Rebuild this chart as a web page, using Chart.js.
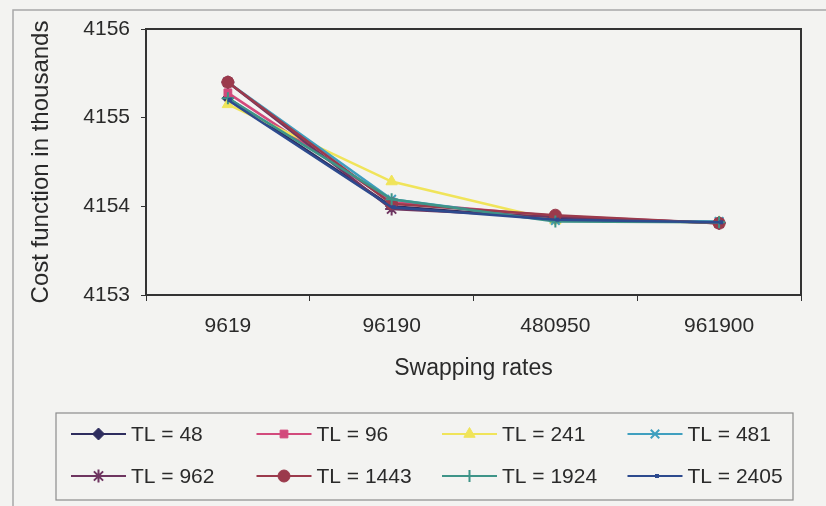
<!DOCTYPE html>
<html>
<head>
<meta charset="utf-8">
<script src="https://cdn.jsdelivr.net/npm/chart.js@4.4.1/dist/chart.umd.min.js"></script>
<style>
  html, body { margin: 0; padding: 0; background: #f3f3f1; }
  #wrap { width: 826px; height: 506px; }
</style>
</head>
<body>
<div id="wrap"><canvas id="c" width="826" height="506"></canvas></div>
<script>
// Swapping rates on the category axis
const swappingRates = ['9619', '96190', '480950', '961900'];

// Cost function (thousands) for each TL setting
const tl48   = [4155.22, 4154.00, 4153.86, 4153.82];
const tl96   = [4155.28, 4154.05, 4153.89, 4153.81];
const tl241  = [4155.15, 4154.28, 4153.84, 4153.82];
const tl481  = [4155.40, 4154.08, 4153.84, 4153.83];
const tl962  = [4155.40, 4153.97, 4153.88, 4153.81];
const tl1443 = [4155.40, 4154.03, 4153.90, 4153.81];
const tl1924 = [4155.22, 4154.08, 4153.83, 4153.82];
const tl2405 = [4155.20, 4153.99, 4153.85, 4153.82];

const seriesLabels = ['TL = 48', 'TL = 96', 'TL = 241', 'TL = 481',
                      'TL = 962', 'TL = 1443', 'TL = 1924', 'TL = 2405'];
const seriesValues = [tl48, tl96, tl241, tl481, tl962, tl1443, tl1924, tl2405];

// Y axis ticks
const yTicks = [4153, 4154, 4155, 4156];

const seriesStyle = [
  { color: '#2e2d5e', point: 'rectRot',  r: 6,   fill: true,  bw: 1   },
  { color: '#d24a7c', point: 'rect',     r: 5.5, fill: true,  bw: 1   },
  { color: '#f0e45a', point: 'triangle', r: 6.5, fill: true,  bw: 1   },
  { color: '#3f9fbf', point: 'crossRot', r: 6,   fill: false, bw: 2   },
  { color: '#6e3560', point: 'star',     r: 6.5, fill: false, bw: 2   },
  { color: '#9b3a4c', point: 'circle',   r: 6,   fill: true,  bw: 1   },
  { color: '#3e9488', point: 'cross',    r: 6,   fill: false, bw: 2   },
  { color: '#2d4a8e', point: 'dash',     r: 4,   fill: false, bw: 4   }
];

const FONT = "'Liberation Sans', Arial, sans-serif";
const TEXT = '#2a2a2a';

const datasets = seriesValues.map((vals, i) => {
  const s = seriesStyle[i];
  return {
    label: seriesLabels[i],
    data: vals,
    borderColor: s.color,
    backgroundColor: s.color,
    borderWidth: 2.5,
    pointStyle: s.point,
    pointRadius: s.r,
    pointHoverRadius: s.r,
    pointBackgroundColor: s.fill ? s.color : 'rgba(0,0,0,0)',
    pointBorderColor: s.color,
    pointBorderWidth: s.bw,
    tension: 0,
    order: -i
  };
});

// Page background and the thin frame around the whole chart
const frame = {
  id: 'frame',
  beforeDraw(chart) {
    const ctx = chart.ctx;
    ctx.save();
    ctx.fillStyle = '#f3f3f1';
    ctx.fillRect(0, 0, chart.width, chart.height);
    ctx.strokeStyle = '#a8a8a8';
    ctx.lineWidth = 1.5;
    ctx.beginPath();
    ctx.moveTo(13, chart.height + 2);
    ctx.lineTo(13, 10);
    ctx.lineTo(chart.width + 2, 10);
    ctx.stroke();
    ctx.restore();
  },
  beforeDatasetsDraw(chart) {
    const a = chart.chartArea;
    const ctx = chart.ctx;
    ctx.save();
    ctx.strokeStyle = '#333333';
    ctx.lineWidth = 2;
    ctx.strokeRect(a.left, a.top, a.right - a.left, a.bottom - a.top);
    ctx.restore();
  }
};

// Boxed legend: 4 columns x 2 rows, line sample with marker
const gridLegend = {
  id: 'gridLegend',
  afterDraw(chart) {
    const ctx = chart.ctx;
    ctx.save();
    ctx.strokeStyle = '#8c8c8c';
    ctx.lineWidth = 1.2;
    ctx.strokeRect(56, 413, 737, 87);
    ctx.font = '21px ' + FONT;
    ctx.textBaseline = 'middle';
    ctx.textAlign = 'left';
    chart.data.datasets.forEach((ds, i) => {
      const col = i % 4, row = Math.floor(i / 4);
      const x0 = 71 + 185.5 * col;
      const y = 434 + 42 * row;
      ctx.strokeStyle = ds.borderColor;
      ctx.lineWidth = 2;
      ctx.beginPath();
      ctx.moveTo(x0, y);
      ctx.lineTo(x0 + 55, y);
      ctx.stroke();
      ctx.fillStyle = ds.pointBackgroundColor;
      ctx.strokeStyle = ds.pointBorderColor;
      ctx.lineWidth = ds.pointBorderWidth;
      Chart.helpers.drawPoint(ctx, {
        pointStyle: ds.pointStyle,
        radius: ds.pointRadius,
        rotation: 0,
        borderWidth: ds.pointBorderWidth
      }, x0 + 27.5, y);
      ctx.fillStyle = TEXT;
      ctx.fillText(ds.label, x0 + 60, y + 1);
    });
    ctx.restore();
  }
};

new Chart(document.getElementById('c'), {
  type: 'line',
  data: { labels: swappingRates, datasets },
  plugins: [frame, gridLegend],
  options: {
    responsive: false,
    animation: false,
    layout: { padding: { left: 0, right: 25, top: 29, bottom: 124 } },
    plugins: {
      legend: { display: false },
      tooltip: { enabled: false }
    },
    scales: {
      x: {
        type: 'category',
        offset: true,
        afterFit(scale) { scale.height = 87; },
        grid: {
          offset: true,
          drawOnChartArea: false,
          drawTicks: true,
          tickLength: 6,
          color: '#333333',
          lineWidth: 1
        },
        border: { display: true, color: '#333333', width: 2 },
        ticks: {
          color: TEXT,
          padding: 13,
          maxRotation: 0,
          font: { family: FONT, size: 21 }
        },
        title: {
          display: true,
          text: 'Swapping rates',
          color: TEXT,
          padding: { top: 0, bottom: 0 },
          font: { family: FONT, size: 23 }
        }
      },
      y: {
        min: 4153,
        max: 4156,
        afterFit(scale) { scale.width = 146; },
        afterBuildTicks(scale) { scale.ticks = yTicks.map(v => ({ value: v })); },
        grid: {
          drawOnChartArea: false,
          drawTicks: true,
          tickLength: 5,
          color: '#333333',
          lineWidth: 1
        },
        border: { display: true, color: '#333333', width: 2 },
        ticks: {
          color: TEXT,
          padding: 11,
          font: { family: FONT, size: 21 },
          callback: v => String(v)
        },
        title: {
          display: true,
          text: 'Cost function in thousands',
          color: TEXT,
          padding: { top: 27, bottom: 0 },
          font: { family: FONT, size: 24 }
        }
      }
    }
  }
});
</script>
</body>
</html>
